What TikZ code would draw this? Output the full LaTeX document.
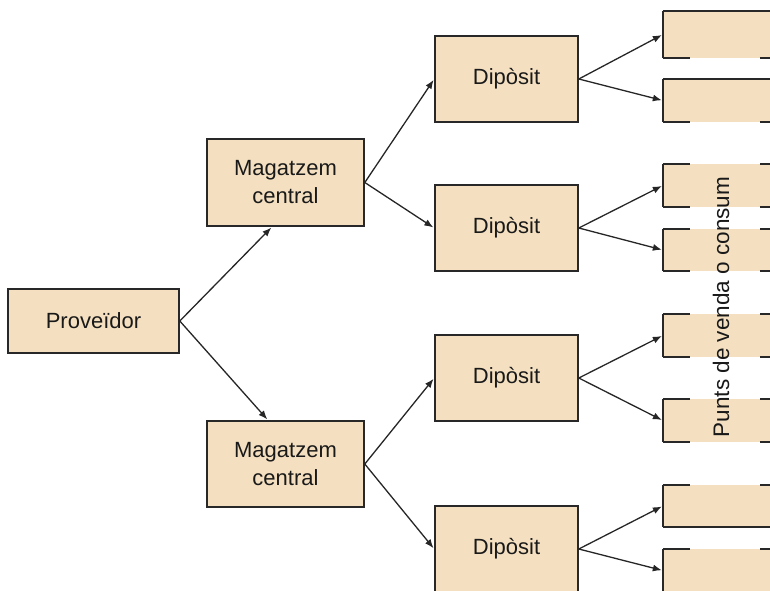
\documentclass[tikz,border=0pt]{standalone}
\usepackage{fontspec}
\setmainfont{Liberation Sans}
\usetikzlibrary{arrows.meta}
\definecolor{boxfill}{RGB}{244,224,192}
\definecolor{boxline}{RGB}{40,40,40}
\tikzset{
  box/.style={rectangle, fill=boxfill, draw=boxline, line width=1.6pt,
    inner sep=0pt, align=center, text=black!90,
    font=\fontsize{22}{28}\selectfont},
  endbox/.style={rectangle, fill=boxfill, draw=none, inner sep=0pt,
    minimum width=137pt},
  edge/.style={draw=boxline, line width=1.6pt},
  link/.style={draw=black!85, line width=1.3pt,
    -{Latex[length=9pt,width=7pt]}, shorten >=1pt},
}
\begin{document}
\begin{tikzpicture}[x=1pt,y=-1pt]
\useasboundingbox (0,0) rectangle (770,590);
\clip (0,0) rectangle (770,590);

% supplier, central warehouses and depots
\node[box, minimum width=171pt, minimum height=64pt] (p) at (93.5,321) {Proveïdor};
\node[box, minimum width=157pt, minimum height=87pt] (m1) at (285.5,182.5) {Magatzem\\central};
\node[box, minimum width=157pt, minimum height=86pt] (m2) at (285.5,464) {Magatzem\\central};
\node[box, minimum width=143pt, minimum height=86pt] (d1) at (506.5,79) {Dipòsit};
\node[box, minimum width=143pt, minimum height=86pt] (d2) at (506.5,228) {Dipòsit};
\node[box, minimum width=143pt, minimum height=86pt] (d3) at (506.5,378) {Dipòsit};
\node[box, minimum width=143pt, minimum height=86pt] (d4) at (506.5,549) {Dipòsit};

% points of sale / consumption
\node[endbox, minimum height=47pt] (r1) at (731.5,34.5) {};
\node[endbox, minimum height=43pt] (r2) at (731.5,100.5) {};
\node[endbox, minimum height=43pt] (r3) at (731.5,185.5) {};
\node[endbox, minimum height=42pt] (r4) at (731.5,250) {};
\node[endbox, minimum height=43pt] (r5) at (731.5,335.5) {};
\node[endbox, minimum height=43pt] (r6) at (731.5,420.5) {};
\node[endbox, minimum height=42pt] (r7) at (731.5,506) {};
\node[endbox, minimum height=43pt] (r8) at (731.5,570.5) {};

% borders of the end boxes, interrupted behind the vertical label
\foreach \r in {r1,r2,r3,r4,r5,r6,r7,r8}{
  \draw[edge] (\r.north west) -- (\r.south west);
}
\foreach \r in {r1,r2}{
  \draw[edge] (\r.north west) -- (\r.north east);
}
\foreach \r in {r3,r4,r5,r6,r7,r8}{
  \draw[edge] (\r.north west) -- ([xshift=27pt]\r.north west);
  \draw[edge] ([xshift=97pt]\r.north west) -- (\r.north east);
}
\foreach \r in {r1,r2,r3,r4,r5,r6}{
  \draw[edge] (\r.south west) -- ([xshift=27pt]\r.south west);
  \draw[edge] ([xshift=97pt]\r.south west) -- (\r.south east);
}
\foreach \r in {r7,r8}{
  \draw[edge] (\r.south west) -- (\r.south east);
}

\node[rotate=90, inner sep=0pt, text=black!90,
  font=\fontsize{22.5}{28}\selectfont] (lbl) at (721,307) {Punts de venda o consum};

% connectors
\draw[link] (p.east) -- ([xshift=-13.5pt]m1.south);
\draw[link] (p.east) -- ([xshift=-17.5pt]m2.north);
\draw[link] (m1.east) -- (d1.west);
\draw[link] (m1.east) -- (d2.west);
\draw[link] (m2.east) -- (d3.west);
\draw[link] (m2.east) -- (d4.west);
\draw[link] (d1.east) -- (r1.west);
\draw[link] (d1.east) -- (r2.west);
\draw[link] (d2.east) -- (r3.west);
\draw[link] (d2.east) -- (r4.west);
\draw[link] (d3.east) -- (r5.west);
\draw[link] (d3.east) -- (r6.west);
\draw[link] (d4.east) -- (r7.west);
\draw[link] (d4.east) -- (r8.west);
\end{tikzpicture}
\end{document}
